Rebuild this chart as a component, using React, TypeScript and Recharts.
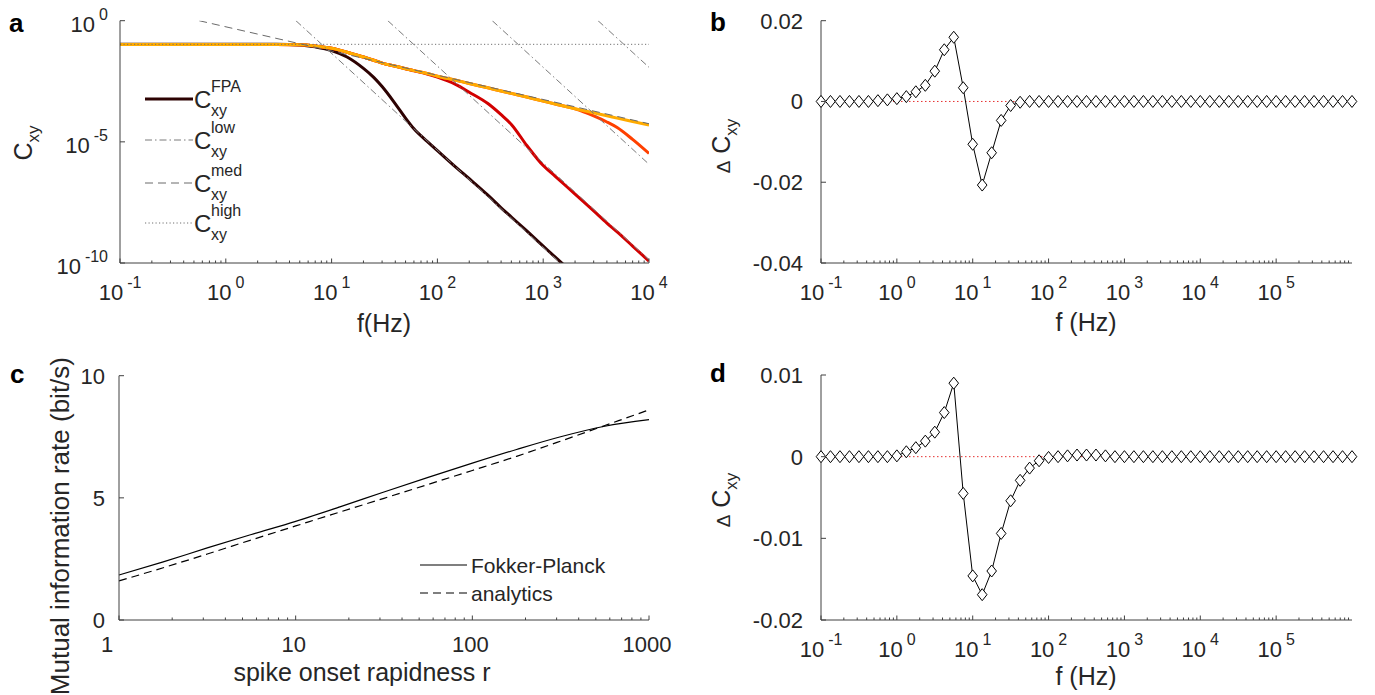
import React from 'react';
import { ComposedChart, Line, XAxis, YAxis } from 'recharts';

const FONT = '"Liberation Sans", Arial, Helvetica, sans-serif';
const INK = '#262626';
const AXIS = '#404040';
const TICK_FS = 22;
const EXP_FS = 16;
const LABEL_FS = 25;

// ---------- panel a: coherence spectra C_xy(f) ----------
const freqA = [0.1, 1, 3, 5, 7, 10, 14, 20, 25, 30, 40, 50, 60, 80, 100, 150, 200, 300, 400, 500, 700, 1000, 1300, 2000, 3000, 4000, 5000, 7000, 10000];

const cxyDark = [0.1072, 0.1072, 0.1059, 0.1, 0.0832, 0.0589, 0.0316, 0.0107, 4.57e-3, 1.91e-3, 3.72e-4, 9.55e-5, 3.47e-5, 1.05e-5, 4.37e-6, 8.9e-7, 3.02e-7, 6.3e-8, 1.9e-8, 7.9e-9, 2.1e-9, 5.0e-10, 1.74e-10, 3.2e-11, 6.3e-12, 2.0e-12, 7.9e-13, 2.0e-13, 5.0e-14];
const cxyRed = [0.1047, 0.1047, 0.1047, 0.1023, 0.0912, 0.0724, 0.0501, 0.0316, 0.0234, 0.0178, 0.0132, 0.01047, 8.51e-3, 6.31e-3, 4.68e-3, 2.29e-3, 1.12e-3, 3.8e-4, 1.32e-4, 5.25e-5, 7.08e-6, 1.05e-6, 3.8e-7, 6.92e-8, 1.41e-8, 4.47e-9, 1.91e-9, 5.0e-10, 1.2e-10];
const cxyOrange = [0.1042, 0.1042, 0.1042, 0.1023, 0.0912, 0.0724, 0.0501, 0.0316, 0.0234, 0.0178, 0.0132, 0.01047, 8.71e-3, 6.61e-3, 5.13e-3, 3.47e-3, 2.57e-3, 1.7e-3, 1.26e-3, 1.0e-3, 7.08e-4, 4.79e-4, 3.63e-4, 2.29e-4, 1.17e-4, 6.6e-5, 3.89e-5, 1.26e-5, 3.31e-6];
const cxyYellow = [0.1035, 0.1035, 0.1035, 0.1023, 0.0912, 0.0724, 0.0501, 0.0316, 0.0234, 0.0178, 0.0132, 0.01047, 8.71e-3, 6.61e-3, 5.13e-3, 3.47e-3, 2.57e-3, 1.7e-3, 1.26e-3, 1.0e-3, 7.08e-4, 4.79e-4, 3.63e-4, 2.34e-4, 1.58e-4, 1.2e-4, 9.55e-5, 6.92e-5, 4.9e-5];

// asymptotes: low (f^-4 tails), medium (f^-1) and high (flat) frequency limits
const lowStartF = [4.6, 34, 330, 3300];
const lowEndC = [4.48e-14, 1.34e-10, 1.19e-6, 1.19e-2];
const medF = [0.56, 10000];
const medC = [1, 5.6e-5];
const highF = [0.1, 10000];
const highC = [0.106, 0.106];

// ---------- panels b and d: deviation Delta C_xy on 8 points per decade ----------
const freqBD = Array.from({ length: 57 }, (_, k) => Math.pow(10, -1 + k / 8));
const deltaB = [
  0, 0, 0, 0, 0, 0, 0.0002, 0.0004, 0.0007, 0.0012, 0.0024, 0.004, 0.0075, 0.0128, 0.0159, 0.0034,
  -0.0106, -0.0207, -0.0127, -0.0047, -0.001, -0.0002, 0, 0, 0, 0, 0, 0, 0, 0, 0, 0, 0, 0, 0, 0,
  0, 0, 0, 0, 0, 0, 0, 0, 0, 0, 0, 0, 0, 0, 0, 0, 0, 0, 0, 0, 0,
];
const deltaD = [
  0, 0, 0, 0, 0, 0, 0, 0, 0.0001, 0.0006, 0.0011, 0.0019, 0.003, 0.0054, 0.009, -0.0045,
  -0.0146, -0.0169, -0.014, -0.0094, -0.0054, -0.0029, -0.0014, -0.0005, -0.0001, 0, 0.0001, 0.0002,
  0.0002, 0.0002, 0.0001, 0, 0, 0, 0, 0, 0, 0, 0, 0, 0, 0, 0, 0, 0, 0, 0, 0, 0, 0, 0, 0, 0, 0, 0, 0, 0,
];

// ---------- panel c: mutual information rate vs onset rapidness ----------
const rapidness = [1, 1.78, 3.16, 5.62, 10, 17.8, 31.6, 56.2, 100, 178, 316, 562, 1000];
const infoFokkerPlanck = [1.84, 2.38, 2.95, 3.5, 4.04, 4.63, 5.24, 5.84, 6.42, 6.98, 7.5, 7.93, 8.2];
const infoAnalytics = [1.6, 2.14, 2.7, 3.28, 3.85, 4.42, 4.98, 5.55, 6.12, 6.7, 7.32, 7.96, 8.6];

const pts = (xs: number[], ys: number[]) => xs.map((x, i) => ({ x, y: ys[i] }));

// decade ticks from 10^lo to 10^hi, with 2..9 minor ticks in decades lo..minorUntil
function logTicks(loExp: number, hiExp: number, minorUntil: number) {
  const t: number[] = [];
  for (let e = loExp; e <= Math.max(hiExp, minorUntil); e++) {
    const base = Math.pow(10, e);
    if (e <= hiExp) t.push(base);
    if (e <= minorUntil) for (let m = 2; m <= 9; m++) t.push(m * base);
  }
  return t;
}
const ticksA = logTicks(-1, 4, 3);
const ticksBD = logTicks(-1, 5, 5);
const ticksC = logTicks(0, 3, 2);

const isMajor = (v: number) => Math.abs(Math.log10(v) - Math.round(Math.log10(v))) < 1e-6;

// tick renderers: Recharts hands over the axis-line position (tickSize and tickMargin are 0)
const powXTick = (props: any) => {
  const { x, y, payload } = props;
  const v = payload.value;
  const major = isMajor(v);
  const e = Math.round(Math.log10(v));
  return (
    <g>
      <line x1={x} x2={x} y1={y} y2={y - (major ? 4.5 : 2.5)} stroke={AXIS} strokeWidth={1} />
      {major && (
        <text x={x} y={y + 37} textAnchor="middle" fontFamily={FONT} fontSize={TICK_FS} fill={INK}>
          10<tspan dx={4} dy={-12.5} fontSize={EXP_FS}>{e}</tspan>
        </text>
      )}
    </g>
  );
};

const plainXTick = (props: any) => {
  const { x, y, payload } = props;
  const v = payload.value;
  const major = isMajor(v);
  return (
    <g>
      <line x1={x} x2={x} y1={y} y2={y - (major ? 4.5 : 2.5)} stroke={AXIS} strokeWidth={1} />
      {major && (
        <text x={v === 1 ? x - 12 : x - 2} y={y + 32} textAnchor="middle" fontFamily={FONT} fontSize={TICK_FS} fill={INK}>
          {v}
        </text>
      )}
    </g>
  );
};

const powYTick = (props: any) => {
  const { x, y, payload } = props;
  const e = Math.round(Math.log10(payload.value));
  return (
    <g>
      <line x1={x} x2={x + 5} y1={y} y2={y} stroke={AXIS} strokeWidth={1} />
      <text x={x - 12} y={y + 11} textAnchor="end" fontFamily={FONT} fontSize={TICK_FS} fill={INK}>
        10<tspan dx={4} dy={-12} fontSize={EXP_FS}>{e}</tspan>
      </text>
    </g>
  );
};

const linYTick = (gap: number, fmt: (v: number) => string) => (props: any) => {
  const { x, y, payload } = props;
  return (
    <g>
      <line x1={x} x2={x + 5} y1={y} y2={y} stroke={AXIS} strokeWidth={1} />
      <text x={x - gap} y={y + 8} textAnchor="end" fontFamily={FONT} fontSize={TICK_FS} fill={INK}>
        {fmt(payload.value)}
      </text>
    </g>
  );
};

const Diamond = (props: any) => {
  const { cx, cy, index } = props;
  if (cx == null || cy == null) return <g key={`d${index}`} />;
  return (
    <path
      key={`d${index}`}
      d={`M${cx},${cy - 6}L${cx + 4.8},${cy}L${cx},${cy + 6}L${cx - 4.8},${cy}Z`}
      fill="#fff"
      stroke="#000"
      strokeWidth={1}
    />
  );
};

const spectra = [
  { key: 'dark', ys: cxyDark, color: '#2d0202' },
  { key: 'red', ys: cxyRed, color: '#d20000' },
  { key: 'orange', ys: cxyOrange, color: '#ff4000' },
  { key: 'yellow', ys: cxyYellow, color: '#ffab00' },
];

const LOW_DASH = '7 3 1.5 3';
const MED_DASH = '8 5';
const HIGH_DASH = '1.2 2.3';

function PanelA() {
  return (
    <ComposedChart width={700} height={345} margin={{ top: 20.7, right: 51, bottom: 81, left: 119 }}>
      <XAxis type="number" dataKey="x" scale="log" domain={[0.1, 10000]} allowDataOverflow ticks={ticksA}
        interval={0} tickSize={0} tickMargin={0} tickLine={false} height={1} axisLine={{ stroke: AXIS }} tick={powXTick} />
      <YAxis type="number" dataKey="y" scale="log" domain={[1e-10, 1]} allowDataOverflow ticks={[1e-10, 1e-5, 1]}
        interval={0} tickSize={0} tickMargin={0} tickLine={false} width={1} axisLine={{ stroke: AXIS }} tick={powYTick} />
      {spectra.map((s) => (
        <Line key={s.key} data={pts(freqA, s.ys)} dataKey="y" type="monotone" stroke={s.color} strokeWidth={3}
          dot={false} isAnimationActive={false} />
      ))}
      <Line key="high" data={pts(highF, highC)} dataKey="y" stroke="#707070" strokeWidth={1}
        strokeDasharray={HIGH_DASH} dot={false} isAnimationActive={false} />
      <Line key="med" data={pts(medF, medC)} dataKey="y" stroke="#6a6a6a" strokeWidth={1}
        strokeDasharray={MED_DASH} dot={false} isAnimationActive={false} />
      {lowStartF.map((f0, i) => (
        <Line key={`low${i}`} data={pts([f0, 10000], [1, lowEndC[i]])} dataKey="y" stroke="#7a7a7a" strokeWidth={1}
          strokeDasharray={LOW_DASH} dot={false} isAnimationActive={false} />
      ))}
    </ComposedChart>
  );
}

function DeltaPanel({ values, domain, ticks, top }: { values: number[]; domain: [number, number]; ticks: number[]; top: number }) {
  const upper = top < 25;
  return (
    <ComposedChart width={675} height={upper ? 345 : 350} margin={{ top, right: 23, bottom: upper ? 81 : 74, left: 120 }}>
      <XAxis type="number" dataKey="x" scale="log" domain={[0.1, 1e6]} ticks={ticksBD}
        interval={0} tickSize={0} tickMargin={0} tickLine={false} height={1} axisLine={{ stroke: AXIS }} tick={powXTick} />
      <YAxis type="number" dataKey="y" domain={domain} ticks={ticks}
        interval={0} tickSize={0} tickMargin={0} tickLine={false} width={1} axisLine={{ stroke: AXIS }}
        tick={linYTick(18, (v) => (v === 0 ? '0' : v.toFixed(2)))} />
      <Line key="zero" data={pts([0.1, 1e6], [0, 0])} dataKey="y" stroke="#e53030" strokeWidth={1}
        strokeDasharray="1.5 2.5" dot={false} isAnimationActive={false} />
      <Line key="delta" data={pts(freqBD, values)} dataKey="y" stroke="#000" strokeWidth={1}
        dot={Diamond} isAnimationActive={false} />
    </ComposedChart>
  );
}

function PanelC() {
  return (
    <ComposedChart width={700} height={350} margin={{ top: 30.7, right: 51, bottom: 74, left: 118 }}>
      <XAxis type="number" dataKey="x" scale="log" domain={[1, 1000]} ticks={ticksC}
        interval={0} tickSize={0} tickMargin={0} tickLine={false} height={1} axisLine={{ stroke: AXIS }} tick={plainXTick} />
      <YAxis type="number" dataKey="y" domain={[0, 10]} ticks={[0, 5, 10]}
        interval={0} tickSize={0} tickMargin={0} tickLine={false} width={1} axisLine={{ stroke: AXIS }}
        tick={linYTick(14, (v) => String(v))} />
      <Line key="fp" data={pts(rapidness, infoFokkerPlanck)} dataKey="y" type="monotone" stroke="#000" strokeWidth={1.2}
        dot={false} isAnimationActive={false} />
      <Line key="an" data={pts(rapidness, infoAnalytics)} dataKey="y" type="monotone" stroke="#000" strokeWidth={1.2}
        strokeDasharray="8 5" dot={false} isAnimationActive={false} />
    </ComposedChart>
  );
}

const legendA = [
  { sup: 'FPA', y: 99, stroke: '#2d0202', width: 3, dash: undefined as string | undefined },
  { sup: 'low', y: 140, stroke: '#7a7a7a', width: 1, dash: LOW_DASH },
  { sup: 'med', y: 183, stroke: '#6a6a6a', width: 1, dash: MED_DASH },
  { sup: 'high', y: 223, stroke: '#707070', width: 1, dash: HIGH_DASH },
];

const legendC = [
  { label: 'Fokker-Planck', y: 565, dash: undefined as string | undefined },
  { label: 'analytics', y: 593, dash: '8 5' },
];

function Annotations() {
  const t = { fontFamily: FONT, fill: INK } as const;
  return (
    <svg width={1375} height={695} style={{ position: 'absolute', left: 0, top: 0, pointerEvents: 'none' }}>
      {/* panel letters */}
      <text x={9} y={32} fontFamily={FONT} fontWeight="bold" fontSize={26} fill="#000">a</text>
      <text x={710} y={31} fontFamily={FONT} fontWeight="bold" fontSize={26} fill="#000">b</text>
      <text x={10} y={383} fontFamily={FONT} fontWeight="bold" fontSize={26} fill="#000">c</text>
      <text x={710} y={382} fontFamily={FONT} fontWeight="bold" fontSize={26} fill="#000">d</text>

      {/* axis titles */}
      <text {...t} x={384} y={332} fontSize={LABEL_FS} textAnchor="middle">f(Hz)</text>
      <text {...t} x={1086} y={331} fontSize={LABEL_FS} textAnchor="middle">f (Hz)</text>
      <text {...t} x={1086} y={685} fontSize={LABEL_FS} textAnchor="middle">f (Hz)</text>
      <text {...t} x={362} y={681} fontSize={LABEL_FS} textAnchor="middle">spike onset rapidness r</text>

      <text {...t} x={32} y={143} fontSize={LABEL_FS} textAnchor="middle" transform="rotate(-90 32 143)">
        C<tspan fontSize={17} dy={7}>xy</tspan>
      </text>
      <text {...t} x={730} y={146} fontSize={LABEL_FS} textAnchor="middle" transform="rotate(-90 730 146)">
        <tspan fontSize={19}>Δ</tspan> C<tspan fontSize={17} dy={7}>xy</tspan>
      </text>
      <text {...t} x={730} y={500} fontSize={LABEL_FS} textAnchor="middle" transform="rotate(-90 730 500)">
        <tspan fontSize={19}>Δ</tspan> C<tspan fontSize={17} dy={7}>xy</tspan>
      </text>
      <text {...t} x={69} y={357} fontSize={26} textAnchor="end" transform="rotate(-90 69 357)">
        Mutual information rate (bit/s)
      </text>

      {/* legend of panel a */}
      {legendA.map((r) => (
        <g key={r.sup}>
          <line x1={145} x2={193} y1={r.y} y2={r.y} stroke={r.stroke} strokeWidth={r.width} strokeDasharray={r.dash} />
          <text {...t} x={194} y={r.y + 9} fontSize={24}>C</text>
          <text {...t} x={211} y={r.y - 7} fontSize={16}>{r.sup}</text>
          <text {...t} x={211} y={r.y + 17} fontSize={16}>xy</text>
        </g>
      ))}

      {/* legend of panel c */}
      {legendC.map((r) => (
        <g key={r.label}>
          <line x1={420} x2={467} y1={r.y} y2={r.y} stroke="#000" strokeWidth={1.2} strokeDasharray={r.dash} />
          <text {...t} x={471} y={r.y + 8} fontSize={21}>{r.label}</text>
        </g>
      ))}
    </svg>
  );
}

export default function App() {
  return (
    <div style={{ position: 'absolute', left: 0, top: 0, width: 1375, height: 695, background: '#fff', overflow: 'hidden' }}>
      <div style={{ position: 'absolute', left: 0, top: 0 }}>
        <PanelA />
      </div>
      <div style={{ position: 'absolute', left: 700, top: 0 }}>
        <DeltaPanel values={deltaB} domain={[-0.04, 0.02]} ticks={[-0.04, -0.02, 0, 0.02]} top={20.7} />
      </div>
      <div style={{ position: 'absolute', left: 0, top: 345 }}>
        <PanelC />
      </div>
      <div style={{ position: 'absolute', left: 700, top: 345 }}>
        <DeltaPanel values={deltaD} domain={[-0.02, 0.01]} ticks={[-0.02, -0.01, 0, 0.01]} top={30} />
      </div>
      <Annotations />
    </div>
  );
}
